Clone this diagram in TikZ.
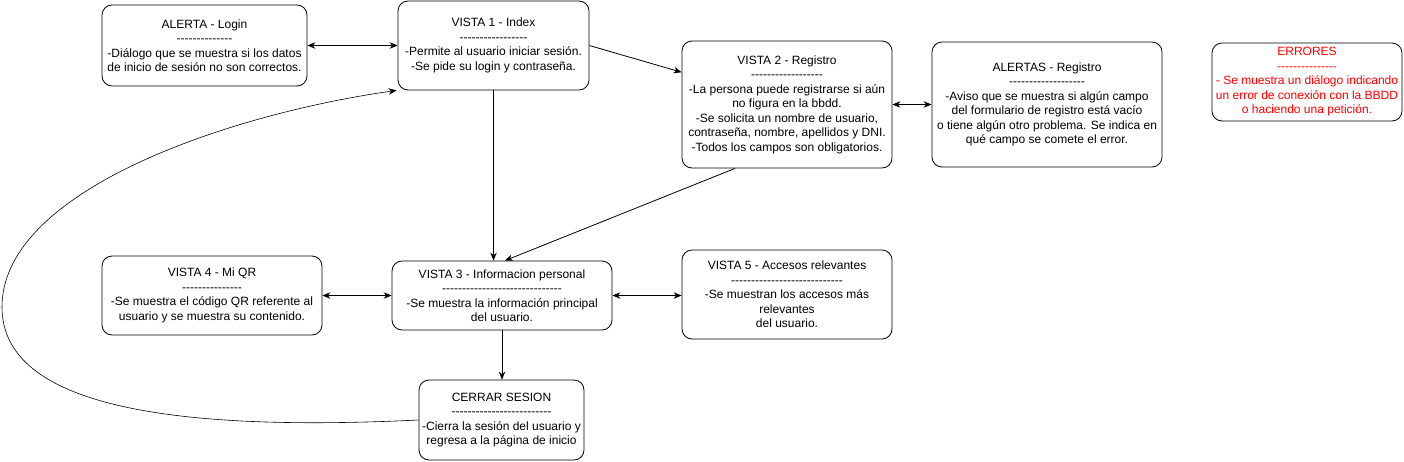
\documentclass[tikz,border=0pt]{standalone}
\usepackage{fontspec}
\setmainfont{Liberation Sans}[Ligatures=TeXOff]
\usetikzlibrary{arrows.meta}

\definecolor{rojoerror}{HTML}{FF0000}
\tikzset{pantalla/.style={draw, rounded corners=10pt, align=center, inner sep=2pt,
    font=\fontsize{12}{14.5}\selectfont}}

\begin{document}
\begin{tikzpicture}[x=1pt, y=-1pt, >={Stealth[length=8pt,width=6.5pt]}, line width=0.8pt]
  \useasboundingbox (0,0) rectangle (1404,461);
  % fila de arriba
  \node[pantalla, minimum width=205pt, minimum height=81pt] (alerta_login) at (204.5,45.5) {ALERTA - Login \\ -------------- \\ -Diálogo que se muestra si los datos \\ de inicio de sesión no son correctos.};
  \node[pantalla, minimum width=191pt, minimum height=89pt] (vista_index) at (493.5,45.5) {VISTA 1 - Index \\ ----------------- \\ -Permite al usuario iniciar sesión. \\ -Se pide su login y contraseña.};
  \node[pantalla, minimum width=210pt, minimum height=127pt] (vista_registro) at (787,104.5) {VISTA 2 - Registro \\ ------------------ \\ -La persona puede registrarse si aún \\ no figura en la bbdd. \\ -Se solicita un nombre de usuario, \\ contraseña, nombre, apellidos y DNI. \\ -Todos los campos son obligatorios.};
  \node[pantalla, minimum width=230pt, minimum height=125pt] (alertas_registro) at (1047,104.5) {ALERTAS - Registro \\ ------------------- \\ -Aviso que se muestra si algún campo \\ del formulario de registro está vacío \\ o tiene algún otro problema. Se indica en \\ qué campo se comete el error.};
  \node[pantalla, minimum width=190pt, minimum height=78pt, text=rojoerror] (errores) at (1307,82) {ERRORES \\ --------------- \\ - Se muestra un diálogo indicando \\ un error de conexión con la BBDD \\ o haciendo una petición.};
  % fila del medio
  \node[pantalla, minimum width=220pt, minimum height=79pt] (vista_qr) at (212,295.5) {VISTA 4 - Mi QR \\ --------------- \\ -Se muestra el código QR referente al \\ usuario y se muestra su contenido.};
  \node[pantalla, minimum width=220pt, minimum height=69pt] (vista_info) at (502,295.5) {VISTA 3 - Informacion personal \\ ------------------------------ \\ -Se muestra la información principal \\ del usuario.};
  \node[pantalla, minimum width=210pt, minimum height=89pt] (vista_accesos) at (787,294.5) {VISTA 5 - Accesos relevantes \\ ---------------------------- \\ -Se muestran los accesos más \\ relevantes \\ del usuario.};
  \node[pantalla, minimum width=165pt, minimum height=80pt] (cerrar_sesion) at (501.5,420) {CERRAR SESION \\ ------------------------- \\ -Cierra la sesión del usuario y \\ regresa a la página de inicio};

  \draw[<->] (alerta_login) -- (vista_index);
  \draw[->] (vista_index.east) -- (vista_registro.163);
  \draw[<->] (vista_registro) -- (alertas_registro);
  \draw[->] (vista_index.south) -- (vista_index.south |- vista_info.north);
  \draw[->] ([xshift=-52pt]vista_registro.south) -- ([xshift=3pt]vista_info.north);
  \draw[<->] (vista_qr) -- (vista_info);
  \draw[<->] (vista_info.east) -- (vista_info.east -| vista_accesos.west);
  \draw[->] (vista_info.south) -- (vista_info.south |- cerrar_sesion.north);
  \draw[->, line width=0.6pt] (cerrar_sesion.west) .. controls (150,433) and (2,400) .. (2,307)
      .. controls (2,190) and (230,114) .. ([xshift=-1pt]vista_index.south west);
\end{tikzpicture}
\end{document}
